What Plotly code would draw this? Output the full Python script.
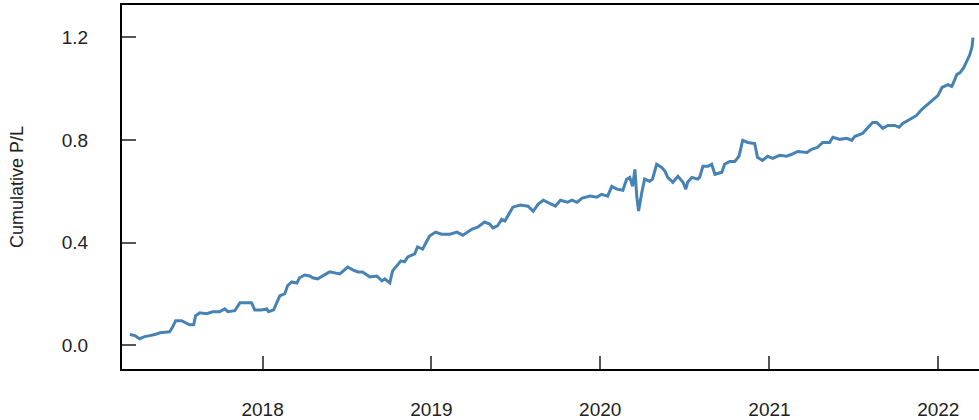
import plotly.graph_objects as go

dates = [
    "2017-03-20", "2017-03-31", "2017-04-10", "2017-04-21", "2017-05-02", "2017-05-13",
    "2017-05-24", "2017-06-14", "2017-06-21", "2017-06-27", "2017-07-10", "2017-07-17",
    "2017-07-27", "2017-08-05", "2017-08-09", "2017-08-18", "2017-09-02", "2017-09-15",
    "2017-09-30", "2017-10-11", "2017-10-18", "2017-11-02", "2017-11-13", "2017-11-23",
    "2017-12-08", "2017-12-15", "2017-12-30", "2018-01-10", "2018-01-14", "2018-01-25",
    "2018-02-01", "2018-02-07", "2018-02-18", "2018-02-24", "2018-03-05", "2018-03-16",
    "2018-03-22", "2018-04-02", "2018-04-13", "2018-04-19", "2018-04-30", "2018-05-11",
    "2018-05-26", "2018-06-17", "2018-07-04", "2018-07-15", "2018-07-26", "2018-08-05",
    "2018-08-21", "2018-09-05", "2018-09-16", "2018-09-22", "2018-10-03", "2018-10-09",
    "2018-10-18", "2018-10-27", "2018-11-04", "2018-11-11", "2018-11-26", "2018-12-02",
    "2018-12-13", "2018-12-22", "2018-12-28", "2019-01-10", "2019-01-23", "2019-02-10",
    "2019-02-25", "2019-03-10", "2019-03-19", "2019-03-30", "2019-04-11", "2019-04-26",
    "2019-05-07", "2019-05-14", "2019-05-24", "2019-06-02", "2019-06-09", "2019-06-20",
    "2019-06-26", "2019-07-12", "2019-07-29", "2019-08-09", "2019-08-20", "2019-08-31",
    "2019-09-15", "2019-09-26", "2019-10-07", "2019-10-22", "2019-11-01", "2019-11-12",
    "2019-11-23", "2019-12-10", "2019-12-25", "2020-01-04", "2020-01-17", "2020-01-26",
    "2020-02-06", "2020-02-19", "2020-02-27", "2020-03-05", "2020-03-11", "2020-03-16",
    "2020-03-20", "2020-03-24", "2020-03-31", "2020-04-06", "2020-04-17", "2020-04-23",
    "2020-05-02", "2020-05-13", "2020-05-20", "2020-05-26", "2020-06-06", "2020-06-17",
    "2020-06-28", "2020-07-04", "2020-07-08", "2020-07-17", "2020-07-30", "2020-08-03",
    "2020-08-10", "2020-08-21", "2020-08-29", "2020-09-05", "2020-09-20", "2020-09-26",
    "2020-10-07", "2020-10-18", "2020-10-27", "2020-11-02", "2020-11-04", "2020-11-15",
    "2020-11-30", "2020-12-06", "2020-12-17", "2020-12-28", "2021-01-08", "2021-01-23",
    "2021-02-07", "2021-02-18", "2021-03-03", "2021-03-23", "2021-04-02", "2021-04-15",
    "2021-04-26", "2021-05-11", "2021-05-18", "2021-06-02", "2021-06-17", "2021-06-28",
    "2021-07-04", "2021-07-21", "2021-08-01", "2021-08-12", "2021-08-21", "2021-08-27",
    "2021-09-03", "2021-09-14", "2021-09-29", "2021-10-08", "2021-10-16", "2021-10-31",
    "2021-11-15", "2021-11-26", "2021-12-07", "2021-12-18", "2021-12-31", "2022-01-09",
    "2022-01-22", "2022-01-30", "2022-02-01", "2022-02-10", "2022-02-17", "2022-02-25",
    "2022-03-02", "2022-03-10", "2022-03-15", "2022-03-17",
]

cum_pl = [
    0.042, 0.038, 0.026, 0.034, 0.038, 0.042,
    0.049, 0.053, 0.073, 0.096, 0.096, 0.088,
    0.080, 0.080, 0.115, 0.127, 0.123, 0.131,
    0.131, 0.142, 0.131, 0.135, 0.166, 0.166,
    0.166, 0.138, 0.138, 0.142, 0.131, 0.138,
    0.170, 0.193, 0.201, 0.232, 0.247, 0.243,
    0.263, 0.274, 0.270, 0.263, 0.259, 0.270,
    0.286, 0.278, 0.305, 0.294, 0.286, 0.286,
    0.266, 0.270, 0.251, 0.259, 0.243, 0.290,
    0.309, 0.329, 0.325, 0.344, 0.356, 0.383,
    0.375, 0.406, 0.426, 0.441, 0.433, 0.433,
    0.441, 0.429, 0.441, 0.453, 0.460, 0.480,
    0.472, 0.457, 0.465, 0.491, 0.484, 0.522,
    0.538, 0.546, 0.542, 0.522, 0.550, 0.565,
    0.550, 0.542, 0.565, 0.557, 0.565, 0.557,
    0.573, 0.581, 0.577, 0.588, 0.581, 0.619,
    0.608, 0.604, 0.647, 0.654, 0.619, 0.685,
    0.581, 0.523, 0.596, 0.647, 0.639, 0.647,
    0.705, 0.693, 0.678, 0.654, 0.635, 0.658,
    0.635, 0.608, 0.635, 0.654, 0.647, 0.654,
    0.697, 0.697, 0.705, 0.666, 0.674, 0.705,
    0.716, 0.716, 0.736, 0.790, 0.798, 0.790,
    0.786, 0.732, 0.720, 0.736, 0.728, 0.740,
    0.736, 0.744, 0.755, 0.751, 0.763, 0.771,
    0.790, 0.790, 0.810, 0.802, 0.806, 0.798,
    0.813, 0.825, 0.845, 0.868, 0.868, 0.856,
    0.845, 0.856, 0.856, 0.849, 0.864, 0.879,
    0.895, 0.918, 0.934, 0.953, 0.972, 1.004,
    1.015, 1.008, 1.015, 1.054, 1.062, 1.081,
    1.100, 1.131, 1.163, 1.198,
]

y_ticks = [0.0, 0.4, 0.8, 1.2]
y_tick_labels = ["0.0", "0.4", "0.8", "1.2"]
x_ticks = ["2018-01-01", "2019-01-01", "2020-01-01", "2021-01-01", "2022-01-01"]
x_tick_labels = ["2018", "2019", "2020", "2021", "2022"]

FONT = "Liberation Sans, Arial, sans-serif"

fig = go.Figure()
fig.add_trace(go.Scatter(
    x=dates, y=cum_pl, mode="lines",
    line=dict(color="#4682B4", width=3),
    hoverinfo="skip", showlegend=False,
))

fig.update_layout(
    width=979, height=420,
    margin=dict(l=122, r=0, t=5, b=48),
    paper_bgcolor="white", plot_bgcolor="white",
    font=dict(family=FONT, size=19, color="#222"),
    xaxis=dict(
        type="date",
        range=["2017-03-03", "2022-03-30"],
        tickvals=x_ticks, ticktext=x_tick_labels,
        ticks="inside", ticklen=13, tickwidth=2, tickcolor="#555",
        showline=True, linecolor="black", linewidth=2, mirror=True,
        showgrid=False, zeroline=False,
        ticklabelstandoff=22,
    ),
    yaxis=dict(
        range=[-0.092, 1.325],
        tickvals=y_ticks, ticktext=y_tick_labels,
        ticks="inside", ticklen=14, tickwidth=2, tickcolor="#555",
        showline=True, linecolor="black", linewidth=2,
        showgrid=False, zeroline=False,
        ticklabelstandoff=28,
    ),
    annotations=[dict(
        text="Cumulative P/L", textangle=-90,
        xref="paper", yref="paper", x=-0.1225, y=0.5,
        xanchor="center", yanchor="middle", showarrow=False,
        font=dict(family=FONT, size=18, color="#222"),
    )],
)

fig.write_html("out.html")
